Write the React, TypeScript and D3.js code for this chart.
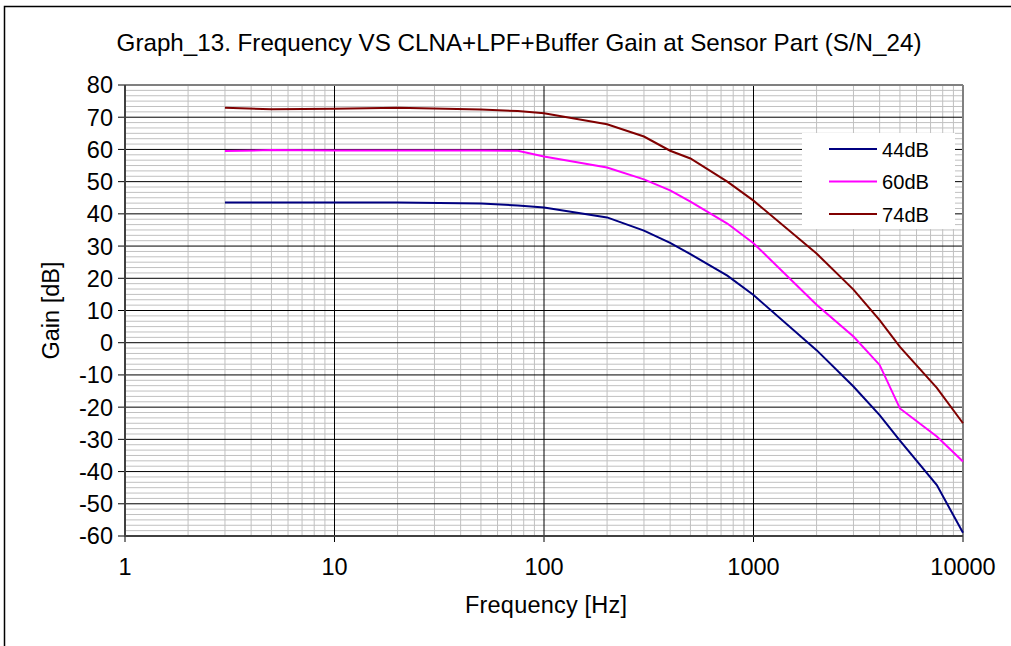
import React from "react";
import * as d3 from "d3";

const freqs = [3, 5, 10, 20, 50, 75, 100, 200, 300, 400, 500, 750, 1000, 2000, 3000, 4000, 5000, 7500, 10000];
const gain44 = [43.5, 43.5, 43.5, 43.5, 43.2, 42.6, 42.0, 38.9, 34.8, 31.0, 27.5, 20.8, 14.8, -2.3, -13.6, -22.5, -30.4, -44.2, -59];
const gain60 = [59.5, 59.8, 59.7, 59.7, 59.7, 59.6, 57.8, 54.4, 50.7, 47.3, 43.8, 37.0, 30.9, 11.8, 1.9, -6.9, -20.4, -29.1, -36.9];
const gain74 = [72.9, 72.5, 72.6, 72.9, 72.4, 71.9, 71.2, 67.8, 64.0, 59.6, 57.2, 50.0, 44.1, 27.7, 16.5, 7.0, -1.3, -14, -25];

const seriesNames = ["44dB", "60dB", "74dB"];
const seriesColors = ["#000080", "#FF00FF", "#800000"];
const seriesValues = [gain44, gain60, gain74];

const xTicks = [1, 10, 100, 1000, 10000];
const yTicks = d3.range(-60, 81, 10);

const title = "Graph_13. Frequency VS CLNA+LPF+Buffer Gain at Sensor Part (S/N_24)";
const xTitle = "Frequency [Hz]";
const yTitle = "Gain [dB]";

const W = 1011, H = 646;
const L = 125, R = 963, T = 85, B = 536;
const FONT = "'Liberation Sans', Arial, sans-serif";

export default function App() {
  const x = d3.scaleLog().domain([1, 10000]).range([L, R]);
  const y = d3.scaleLinear().domain([-60, 80]).range([B, T]);

  const minorX: number[] = [];
  for (let d = 1; d < 10000; d *= 10) for (let k = 2; k <= 9; k++) minorX.push(d * k);
  const minorY: number[] = [];
  for (let v = -60; v < 80; v += 10) for (let k = 1; k <= 5; k++) minorY.push(v + (10 * k) / 6);

  const line = d3.line<[number, number]>().x(d => x(d[0])).y(d => y(d[1]));

  const legX = 802, legY = 133, legW = 153, legH = 96;

  return (
    <div style={{ position: "fixed", left: 0, top: 0 }}>
      <svg width={W} height={H} style={{ display: "block", background: "#fff" }}>
        <rect x={0} y={0} width={W} height={H} fill="#fff" />
        <path d={`M4.5,${H} L4.5,6.5 L${W},6.5`} fill="none" stroke="#000" strokeWidth={1.5} />
        <text x={519} y={51} textAnchor="middle" fontFamily={FONT} fontSize={24.2} fill="#000">{title}</text>

        {minorX.map((v, i) => (
          <line key={"mx" + i} x1={x(v)} x2={x(v)} y1={T} y2={B} stroke="#c0c0c0" strokeWidth={1} />
        ))}
        {minorY.map((v, i) => (
          <line key={"my" + i} x1={L} x2={R} y1={y(v)} y2={y(v)} stroke="#c0c0c0" strokeWidth={1} />
        ))}
        {xTicks.map((v, i) => (
          <line key={"Mx" + i} x1={x(v)} x2={x(v)} y1={T} y2={B + 6} stroke="#000" strokeWidth={1} />
        ))}
        {yTicks.map((v, i) => (
          <line key={"My" + i} x1={L - 7} x2={R} y1={y(v)} y2={y(v)} stroke="#000" strokeWidth={1} />
        ))}
        <line x1={L} x2={R} y1={T} y2={T} stroke="#808080" strokeWidth={2} />
        <line x1={R} x2={R} y1={T} y2={B} stroke="#808080" strokeWidth={2} />
        <line x1={L} x2={L} y1={T} y2={B} stroke="#404040" strokeWidth={2} />
        <line x1={L} x2={R} y1={B} y2={B} stroke="#404040" strokeWidth={2} />

        {seriesValues.map((vals, si) => (
          <path key={"s" + si}
            d={line(freqs.map((f, i) => [f, vals[i]] as [number, number])) || ""}
            fill="none" stroke={seriesColors[si]} strokeWidth={2} />
        ))}

        {yTicks.map((v, i) => (
          <text key={"yl" + i} x={L - 12} y={y(v)} dy="0.36em" textAnchor="end" fontFamily={FONT} fontSize={23.5} fill="#000">{v}</text>
        ))}
        {xTicks.map((v, i) => (
          <text key={"xl" + i} x={x(v)} y={B + 39} textAnchor="middle" fontFamily={FONT} fontSize={23.5} fill="#000">{v}</text>
        ))}
        <text x={546} y={613} textAnchor="middle" fontFamily={FONT} fontSize={23.5} fill="#000" textLength={162}>{xTitle}</text>
        <text transform={`translate(59,${(T + B) / 2}) rotate(-90)`} textAnchor="middle" fontFamily={FONT} fontSize={23.5} fill="#000">{yTitle}</text>

        <rect x={legX} y={legY} width={legW} height={legH} fill="#fff" />
        {seriesNames.map((n, i) => (
          <g key={"lg" + i}>
            <line x1={legX + 27} x2={legX + 75} y1={legY + 16 + i * 32.5} y2={legY + 16 + i * 32.5} stroke={seriesColors[i]} strokeWidth={2} />
            <text x={legX + 80} y={legY + 16 + i * 32.5} dy="0.36em" fontFamily={FONT} fontSize={21} fill="#000" textLength={47} lengthAdjust="spacingAndGlyphs">{n}</text>
          </g>
        ))}
      </svg>
    </div>
  );
}
